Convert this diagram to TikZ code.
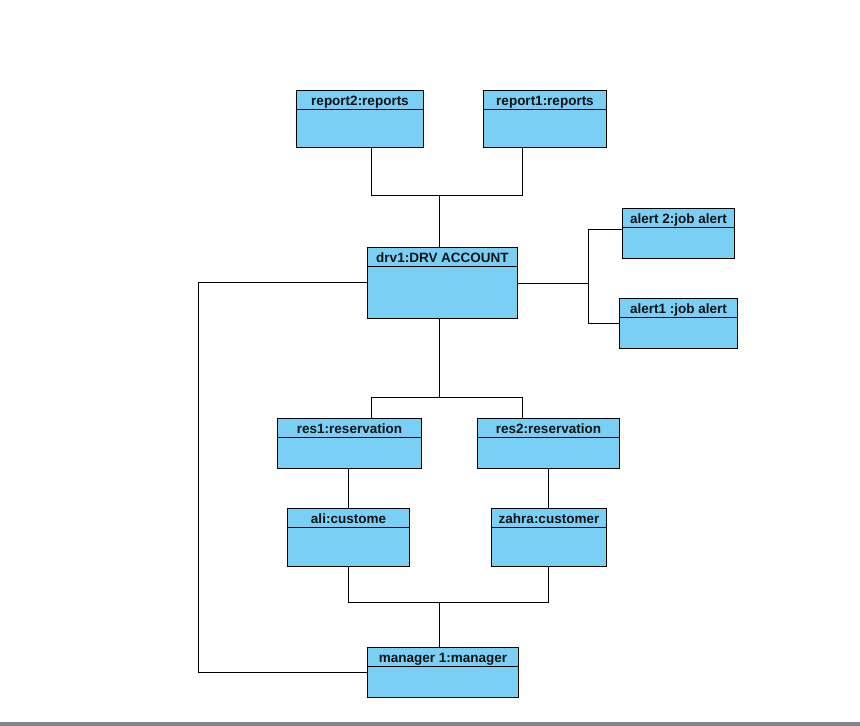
\documentclass[tikz,border=0pt]{standalone}
\usepackage{fontspec}
\setmainfont{Liberation Sans}
\usetikzlibrary{fit}
\definecolor{objfill}{RGB}{122,207,245}
\definecolor{edgegray}{RGB}{130,133,142}
\tikzset{
  objbox/.style={draw=black, line width=1.15pt, fill=objfill, inner sep=0pt, outer sep=0pt},
  lbl/.style={font=\fontsize{13.5}{15}\selectfont\bfseries, text=black!93, inner sep=0pt, anchor=base},
  conn/.style={draw=black, line width=1.15pt},
}
\newcommand{\umlobj}[6]{%
  \node[objbox, fit={(#2,#3)(#4,#5)}] (#1) {};
  \draw[line width=1.15pt] ([yshift=-19pt]#1.north west) -- ([yshift=-19pt]#1.north east);
  \node[lbl] at ([yshift=-15pt]#1.north) {#6};
}
\begin{document}
\begin{tikzpicture}[x=1pt,y=-1pt]
\fill[white] (0,0) rectangle (860,726);
\useasboundingbox (0,0) rectangle (860,726);
\fill[edgegray] (0,722.3) rectangle (860,726);

\umlobj{r2}{296.5}{90.5}{423.5}{147.5}{report2:reports}
\umlobj{r1}{483.5}{90.5}{606.5}{147.5}{report1:reports}
\umlobj{drv}{367.5}{247.5}{517.5}{318.5}{drv1:DRV ACCOUNT}
\umlobj{al2}{622.5}{208.5}{734.5}{258.5}{alert 2:job alert}
\umlobj{al1}{619.5}{298.5}{737.5}{348.5}{alert1 :job alert}
\umlobj{res1}{277.5}{418.5}{421.5}{468.5}{res1:reservation}
\umlobj{res2}{477.5}{418.5}{619.5}{468.5}{res2:reservation}
\umlobj{ali}{287.5}{508.5}{409.5}{566.5}{ali:custome}
\umlobj{zahra}{491.5}{508.5}{606.5}{566.5}{zahra:customer}
\umlobj{mgr}{367.5}{647.5}{518.5}{697.5}{manager 1:manager}

% top junction
\coordinate (jtop) at (439.5,195.5);
\coordinate (jr2) at (371.5,195.5);
\coordinate (jr1) at (522.5,195.5);
\draw[conn] (jr2 |- r2.south) -- (jr2) -- (jr1) -- (jr1 |- r1.south);
\draw[conn] (jtop) -- (jtop |- drv.north);

% alerts
\coordinate (jal) at (588.5,283.5);
\coordinate (jal2) at (588.5,229.5);
\coordinate (jal1) at (588.5,323.5);
\draw[conn] (drv.east |- jal) -- (jal);
\draw[conn] (al2.west |- jal2) -- (jal2) -- (jal1) -- (al1.west |- jal1);

% left loop to manager
\coordinate (jl1) at (198.5,282.5);
\coordinate (jl2) at (198.5,672.5);
\draw[conn] (drv.west |- jl1) -- (jl1) -- (jl2) -- (mgr.west |- jl2);

% reservations
\coordinate (jmid) at (439.5,397.5);
\coordinate (jm1) at (371.5,397.5);
\coordinate (jm2) at (522.5,397.5);
\draw[conn] (jmid |- drv.south) -- (jmid);
\draw[conn] (jm1 |- res1.north) -- (jm1) -- (jm2) -- (jm2 |- res2.north);

% customers
\coordinate (jc1) at (348.5,0);
\coordinate (jc2) at (548.5,0);
\draw[conn] (jc1 |- res1.south) -- (jc1 |- ali.north);
\draw[conn] (jc2 |- res2.south) -- (jc2 |- zahra.north);

% bottom junction
\coordinate (jbot) at (439.5,602.5);
\draw[conn] (jc1 |- ali.south) -- (jc1 |- jbot) -- (jc2 |- jbot) -- (jc2 |- zahra.south);
\draw[conn] (jbot) -- (jbot |- mgr.north);
\end{tikzpicture}
\end{document}
